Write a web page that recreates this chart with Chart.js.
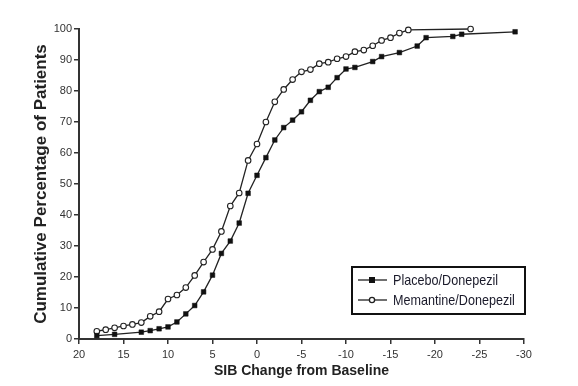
<!DOCTYPE html>
<html>
<head>
<meta charset="utf-8">
<script src="https://cdn.jsdelivr.net/npm/chart.js@4"></script>
<style>
  html, body { margin: 0; padding: 0; background: #fff; }
  #wrap { width: 578px; height: 386px; }
</style>
</head>
<body>
<div id="wrap"><canvas id="myChart" width="578" height="386"></canvas></div>
<script>
const memantineX = [18, 17, 16, 15, 14, 13, 12, 11, 10, 9, 8, 7, 6, 5, 4, 3, 2, 1, 0, -1, -2, -3, -4, -5, -6, -7, -8, -9, -10, -11, -12, -13, -14, -15, -16, -17, -24];
const memantineY = [2.5, 3.0, 3.6, 4.2, 4.7, 5.3, 7.3, 8.8, 12.9, 14.2, 16.6, 20.5, 24.8, 28.9, 34.7, 42.9, 47.1, 57.6, 62.9, 70, 76.5, 80.5, 83.7, 86.2, 86.9, 88.8, 89.3, 90.4, 91.1, 92.7, 93.2, 94.6, 96.3, 97.2, 98.7, 99.7, 100];

const placeboX = [18, 16, 13, 12, 11, 10, 9, 8, 7, 6, 5, 4, 3, 2, 1, 0, -1, -2, -3, -4, -5, -6, -7, -8, -9, -10, -11, -13, -14, -16, -18, -19, -22, -23, -29];
const placeboY = [1.1, 1.5, 2.2, 2.7, 3.3, 3.9, 5.5, 8.1, 10.8, 15.2, 20.6, 27.6, 31.6, 37.4, 47, 52.8, 58.5, 64.2, 68.2, 70.6, 73.3, 77, 79.8, 81.2, 84.3, 87.1, 87.6, 89.5, 91.1, 92.4, 94.5, 97.2, 97.6, 98.3, 99.1];

const seriesLabels = ['Placebo/Donepezil', 'Memantine/Donepezil'];
const xTitle = 'SIB Change from Baseline';
const yTitle = 'Cumulative Percentage of Patients';

const FONT = "'Liberation Sans', Arial, sans-serif";
const INK = '#222';

function toPoints(xs, ys) {
  return xs.map((x, i) => ({ x: x, y: ys[i] }));
}

// boxed legend in the lower right of the plot
const boxLegend = {
  id: 'boxLegend',
  afterDraw(chart) {
    const ctx = chart.ctx;
    const left = 352, top = 267, w = 173, h = 47;
    ctx.save();
    ctx.fillStyle = '#fff';
    ctx.fillRect(left, top, w, h);
    ctx.strokeStyle = '#111';
    ctx.lineWidth = 2;
    ctx.strokeRect(left, top, w, h);
    chart.data.datasets.forEach((ds, i) => {
      const cy = top + 13 + i * 20;
      ctx.strokeStyle = INK;
      ctx.lineWidth = 1.3;
      ctx.beginPath();
      ctx.moveTo(358, cy);
      ctx.lineTo(387, cy);
      ctx.stroke();
      if (ds.pointStyle === 'rect') {
        ctx.fillStyle = '#111';
        ctx.fillRect(369, cy - 3, 6, 6);
      } else {
        ctx.fillStyle = '#fff';
        ctx.beginPath();
        ctx.arc(372, cy, 2.6, 0, Math.PI * 2);
        ctx.fill();
        ctx.stroke();
      }
      // condensed look: squeeze the text horizontally
      ctx.save();
      ctx.translate(393, cy + 1);
      ctx.scale(0.84, 1);
      ctx.fillStyle = '#1a1a2a';
      ctx.font = '15px ' + FONT;
      ctx.textBaseline = 'middle';
      ctx.fillText(ds.label, 0, 0);
      ctx.restore();
    });
    ctx.restore();
  }
};

function createChart() {
  const data = {
    datasets: [
      {
        label: seriesLabels[0],
        data: toPoints(placeboX, placeboY),
        borderColor: INK,
        borderWidth: 1.3,
        pointStyle: 'rect',
        pointRadius: 3.3,
        pointBackgroundColor: '#111',
        pointBorderColor: '#111',
        pointBorderWidth: 0.5,
        clip: false,
      },
      {
        label: seriesLabels[1],
        data: toPoints(memantineX, memantineY),
        borderColor: INK,
        borderWidth: 1.3,
        pointStyle: 'circle',
        pointRadius: 2.8,
        pointBackgroundColor: '#fff',
        pointBorderColor: INK,
        pointBorderWidth: 1.1,
        clip: false,
      },
    ],
  };

  const config = {
    type: 'line',
    data: data,
    options: {
      responsive: false,
      animation: false,
      layout: { padding: { top: 29, right: 54, bottom: 0, left: 0 } },
      plugins: {
        legend: { display: false },
        tooltip: { enabled: false },
      },
      scales: {
        x: {
          type: 'linear',
          reverse: true,
          min: -30,
          max: 20,
          afterFit: (s) => { s.height = 47; },
          border: { display: true, color: '#333', width: 2 },
          grid: { display: true, drawOnChartArea: false, drawTicks: true, tickLength: 5, color: '#333', lineWidth: 1.5 },
          ticks: { stepSize: 5, color: '#333', padding: 4, font: { family: FONT, size: 11 } },
          title: { display: true, text: xTitle, color: '#222', padding: { top: 0, bottom: 6 }, font: { family: FONT, size: 14, weight: 'bold' } },
        },
        y: {
          min: 0,
          max: 100,
          afterFit: (s) => { s.width = 79; },
          border: { display: true, color: '#333', width: 2 },
          grid: { display: true, drawOnChartArea: false, drawTicks: true, tickLength: 5, color: '#333', lineWidth: 1.5 },
          ticks: { stepSize: 10, color: '#333', padding: 2, font: { family: FONT, size: 11 } },
          title: { display: true, text: yTitle, color: '#222', padding: { top: 31, bottom: 0 }, font: { family: FONT, size: 17, weight: 'bold' } },
        },
      },
    },
    plugins: [boxLegend],
  };

  const ctx = document.getElementById('myChart').getContext('2d');
  return new Chart(ctx, config);
}

createChart();
</script>
</body>
</html>
